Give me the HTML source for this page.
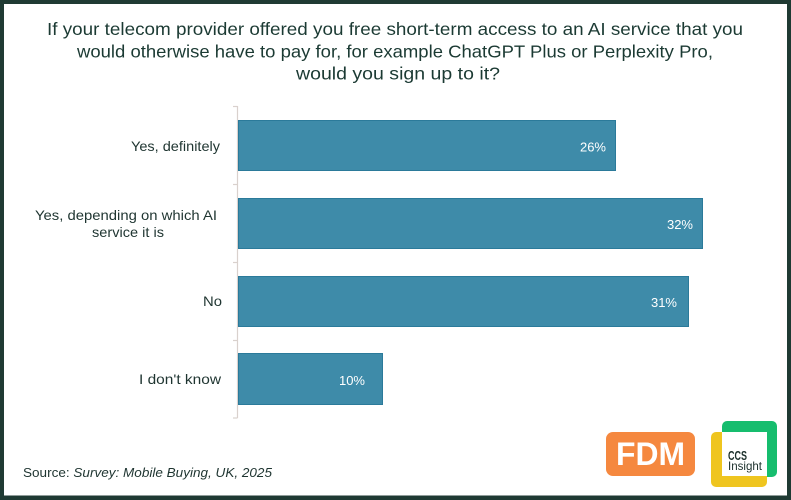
<!DOCTYPE html>
<html><head><meta charset="utf-8"><style>
html,body{margin:0;padding:0;background:#fff;}
svg{display:block;}
text{font-family:"Liberation Sans",sans-serif;}
</style></head><body>
<svg width="791" height="500" viewBox="0 0 791 500" xmlns="http://www.w3.org/2000/svg">
<rect x="0" y="0" width="791" height="500" fill="#1f3a33"/>
<rect x="4" y="4" width="783" height="491.5" fill="#ffffff"/>

<g fill="#1b3a33" font-size="17.5" text-anchor="start">
<text x="47" y="35" textLength="696" lengthAdjust="spacingAndGlyphs">If your telecom provider offered you free short-term access to an AI service that you</text>
<text x="77" y="57.5" textLength="636" lengthAdjust="spacingAndGlyphs">would otherwise have to pay for, for example ChatGPT Plus or Perplexity Pro,</text>
<text x="296" y="79.5" textLength="204" lengthAdjust="spacingAndGlyphs">would you sign up to it?</text>
</g>

<g stroke="#d9d1cd" stroke-width="1.2" fill="none">
<line x1="237.5" y1="106" x2="237.5" y2="418"/>
<line x1="233" y1="106.5" x2="237.5" y2="106.5"/>
<line x1="233" y1="184.5" x2="237.5" y2="184.5"/>
<line x1="233" y1="262.5" x2="237.5" y2="262.5"/>
<line x1="233" y1="340.5" x2="237.5" y2="340.5"/>
<line x1="233" y1="418" x2="237.5" y2="418"/>
</g>

<g fill="#3e8ba9" stroke="#2b7a9a" stroke-width="1">
<rect x="238.5" y="120.5" width="377" height="50"/>
<rect x="238.5" y="198.5" width="464" height="50"/>
<rect x="238.5" y="276.5" width="450" height="50"/>
<rect x="238.5" y="353.5" width="144" height="51"/>
</g>

<g fill="#ffffff" font-size="13" text-anchor="end">
<text x="606" y="151.5">26%</text>
<text x="693" y="229">32%</text>
<text x="677" y="307">31%</text>
<text x="365" y="385">10%</text>
</g>

<g fill="#1f3531" font-size="14">
<text x="131" y="151" textLength="89" lengthAdjust="spacingAndGlyphs">Yes, definitely</text>
<text x="35" y="220" textLength="182" lengthAdjust="spacingAndGlyphs">Yes, depending on which AI</text>
<text x="92" y="237" textLength="72" lengthAdjust="spacingAndGlyphs">service it is</text>
<text x="203" y="306" textLength="19" lengthAdjust="spacingAndGlyphs">No</text>
<text x="139" y="384" textLength="82" lengthAdjust="spacingAndGlyphs">I don't know</text>
</g>

<text x="23" y="477" font-size="13" fill="#1f3531" textLength="249" lengthAdjust="spacingAndGlyphs">Source: <tspan font-style="italic">Survey: Mobile Buying, UK, 2025</tspan></text>

<rect x="606" y="432" width="89" height="44" rx="7" fill="#f5883f"/>
<text x="616" y="465" font-size="32" font-weight="bold" fill="#ffffff" textLength="69" lengthAdjust="spacingAndGlyphs">FDM</text>

<rect x="722" y="421" width="55" height="56" rx="5" fill="#16bd6e"/>
<rect x="711" y="432" width="56" height="55" rx="5" fill="#efc51f"/>
<rect x="722" y="432" width="45" height="44" fill="#ffffff"/>
<text x="728" y="460" font-size="12.5" font-weight="bold" fill="#1b2f2b" textLength="19" lengthAdjust="spacingAndGlyphs">CCS</text>
<text x="728" y="470" font-size="12" fill="#1b2f2b" textLength="34" lengthAdjust="spacingAndGlyphs">Insight</text>
</svg>
</body></html>
